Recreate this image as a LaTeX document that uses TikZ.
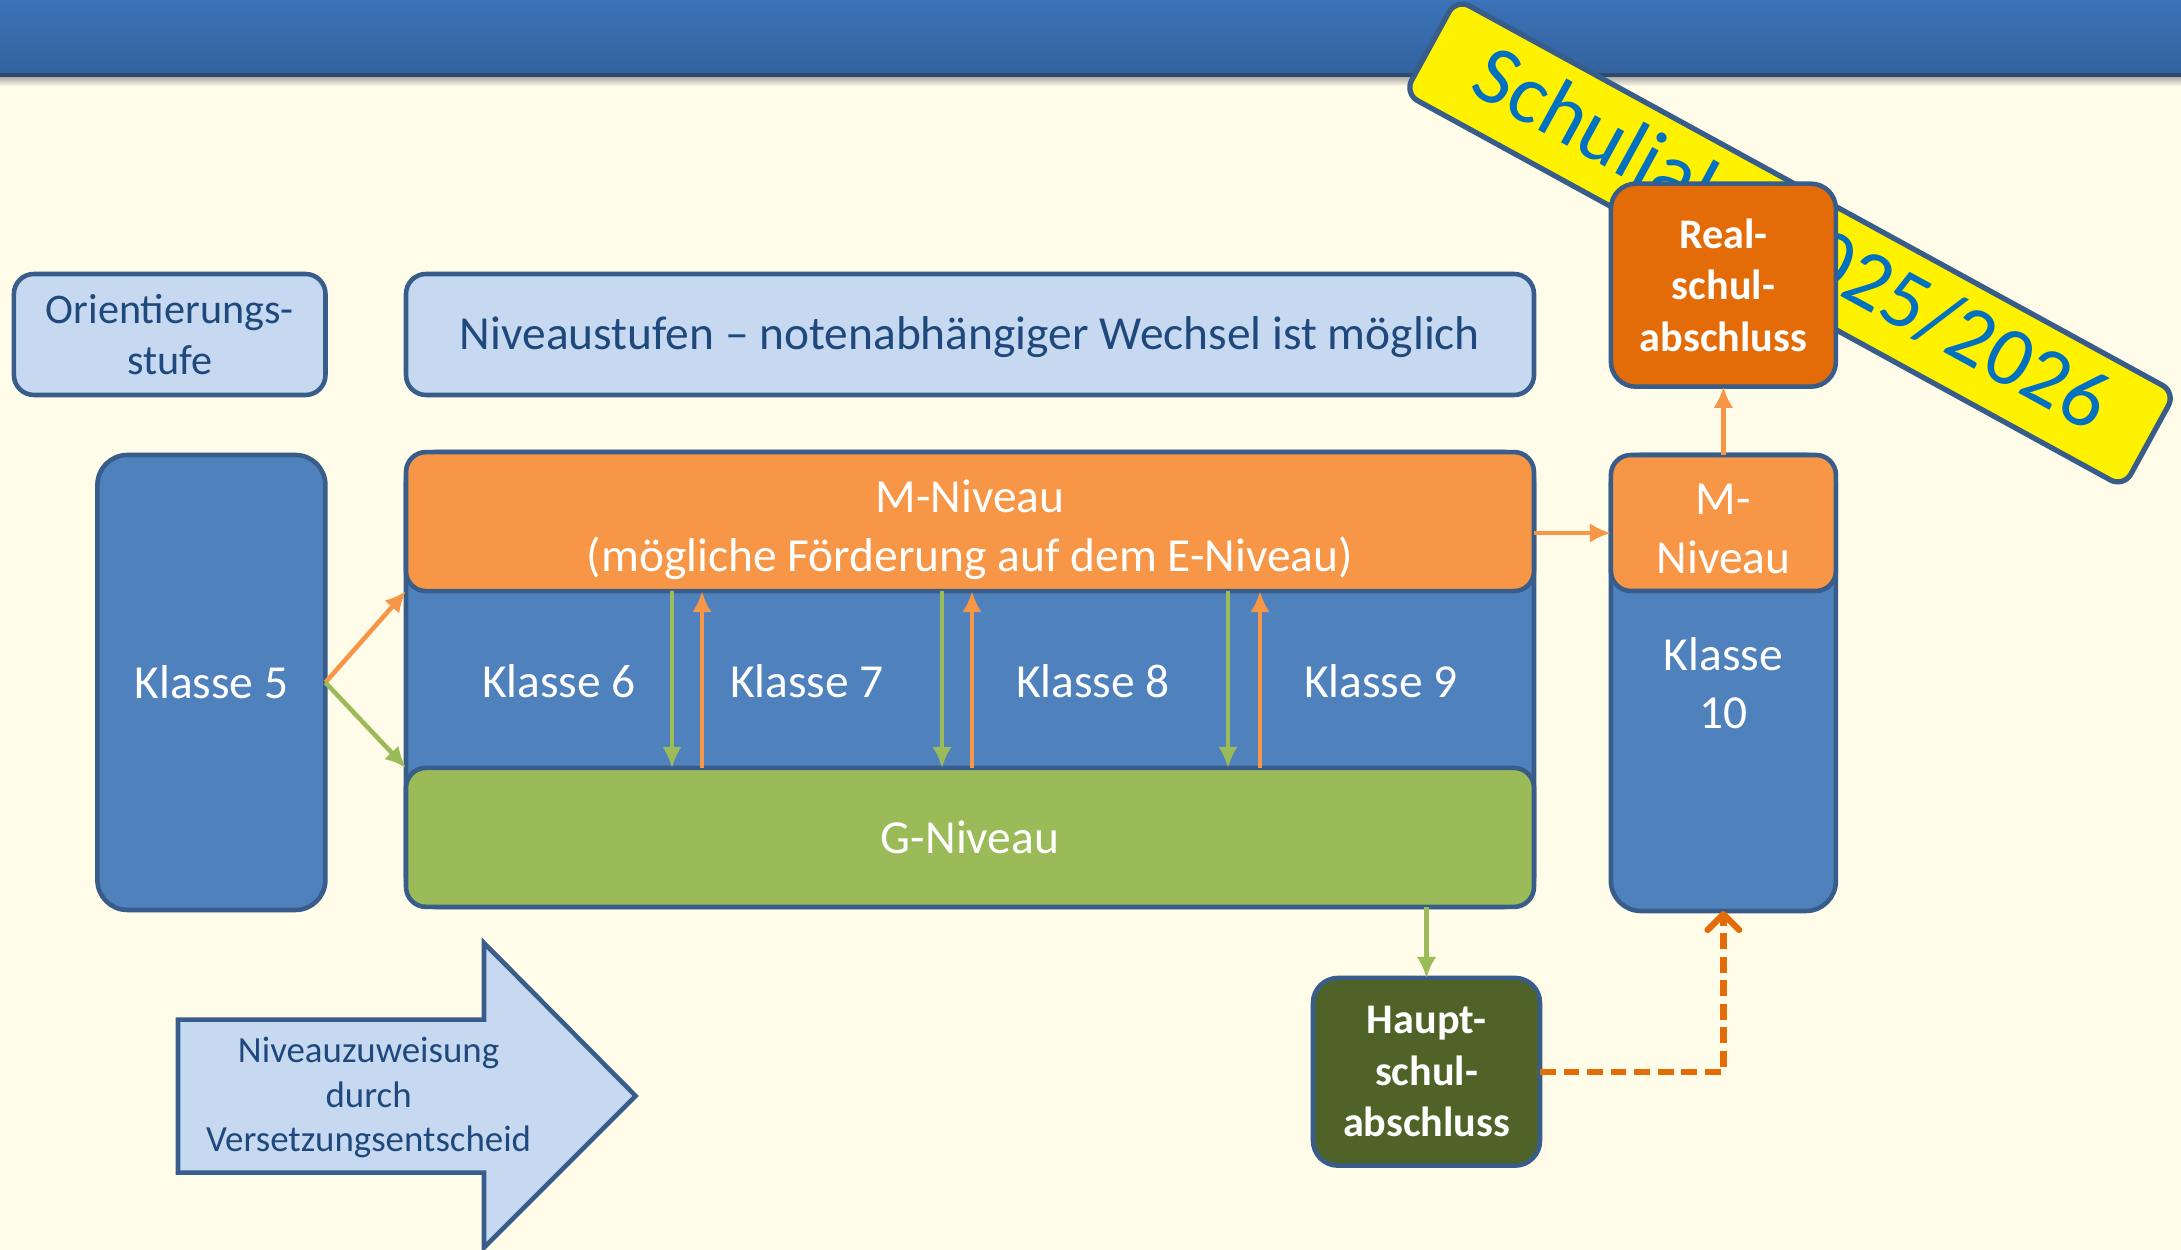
\documentclass[tikz,border=0pt]{standalone}
\usepackage{fontspec}
\setmainfont{Carlito}
\usetikzlibrary{arrows.meta,positioning}
\definecolor{cream}{RGB}{255,252,233}
\definecolor{barblue}{RGB}{59,115,184}
\definecolor{bardark}{RGB}{51,98,158}
\definecolor{edgeblue}{RGB}{56,93,138}
\definecolor{lightblue}{RGB}{198,217,241}
\definecolor{midblue}{RGB}{79,129,189}
\definecolor{textblue}{RGB}{31,73,125}
\definecolor{mor}{RGB}{247,150,70}
\definecolor{ggreen}{RGB}{155,187,89}
\definecolor{realor}{RGB}{227,108,9}
\definecolor{olive}{RGB}{79,98,40}
\definecolor{bannerblue}{RGB}{0,112,192}

\begin{document}
\begin{tikzpicture}[>={Latex[length=6pt,width=5.6pt]}, semithick]
\tikzstyle{infobox} = [rectangle, rounded corners=0.2cm, draw=edgeblue, line width=1.3pt, fill=lightblue, text=textblue, align=center, inner sep=0pt, outer sep=0pt]
\tikzstyle{klasse} = [rectangle, rounded corners=0.3cm, draw=edgeblue, line width=1.3pt, fill=midblue, text=white, align=center, inner sep=0pt, outer sep=0pt, font=\fontsize{13.5}{16.6}\selectfont]
\tikzstyle{niveau} = [klasse, rounded corners=0.2cm]
\tikzstyle{abschluss} = [klasse, rounded corners=0.25cm, font=\bfseries\fontsize{12}{14.6}\selectfont]
\tikzset{orpfeil/.style={->, draw=mor, line width=1.3pt}}
\tikzset{grpfeil/.style={->, draw=ggreen, line width=1.3pt}}

    % Hintergrund und Kopfleiste
    \fill[cream] (0,0) rectangle (21.81,12.50);
    \useasboundingbox (0,0) rectangle (21.81,12.50);
    \shade[top color=barblue, bottom color=bardark] (0,11.76) rectangle (21.81,12.50);
    \shade[top color=black!40, bottom color=cream] (0,11.64) rectangle (21.81,11.75);
    \draw[edgeblue!80!black, line width=1.2pt] (0,11.75) -- (21.81,11.75);

    % Schuljahr
    \node[rectangle, rounded corners=0.15cm, draw=edgeblue, line width=1.5pt, fill=yellow, text=bannerblue, minimum width=8.2cm, minimum height=1.08cm, font=\fontsize{24}{28}\selectfont, rotate=-28.7] (jahr) at (17.9,10.07) {Schuljahr 2025/2026};

    \node[infobox, minimum width=3.116cm, minimum height=1.21cm, font=\fontsize{12}{14.6}\selectfont] (orient) at (1.697,9.155) {Orientierungs-\\stufe};
    \node[infobox, minimum width=11.28cm, minimum height=1.21cm, font=\fontsize{13.5}{16.6}\selectfont] (stufen) at (9.70,9.155) {\rule{0pt}{11pt}Niveaustufen – notenabhängiger Wechsel ist möglich};

    \node[klasse, minimum width=2.28cm, minimum height=4.55cm] (k5) at (2.114,5.675) {Klasse 5};
    \node[klasse, minimum width=11.28cm, minimum height=4.55cm] (k69) at (9.70,5.705) {};
    \node[niveau, fill=mor, minimum width=11.28cm, minimum height=1.39cm] (mniv) at (9.70,7.284) {\rule{0pt}{14pt}M-Niveau\\(mögliche Förderung auf dem E-Niveau)};
    \node[niveau, fill=ggreen, minimum width=11.28cm, minimum height=1.39cm] (gniv) at (9.70,4.126) {G-Niveau};
    \foreach \x/\n in {5.59/6, 8.07/7, 10.93/8, 13.81/9}
        \node[text=white, font=\fontsize{13.5}{16.6}\selectfont] (k\n) at (\x,5.684) {Klasse \n};

    \node[klasse, minimum width=2.25cm, minimum height=4.56cm] (k10) at (17.234,5.67) {Klasse\\10};
    \node[niveau, fill=mor, minimum width=2.25cm, minimum height=1.36cm] (msmall) at (17.234,7.27) {\rule{0pt}{12pt}M-\\Niveau};
    \node[abschluss, fill=realor, minimum width=2.25cm, minimum height=2.03cm] (real) at (17.234,9.648) {Real-\\schul-\\abschluss};
    \node[abschluss, fill=olive, minimum width=2.27cm, minimum height=1.877cm] (haupt) at (14.265,1.782) {Haupt-\\schul-\\abschluss};

    % Pfeile
    \draw (k5.east) edge [orpfeil] (mniv.south west);
    \draw (k5.east) edge [grpfeil] (gniv.north west);
    \foreach \dx/\ux in {2.66/2.96, 5.36/5.66, 8.22/8.54} {
        \draw[grpfeil] ([xshift=\dx cm]mniv.south west) -- ([xshift=\dx cm]gniv.north west);
        \draw[orpfeil] ([xshift=\ux cm]gniv.north west) -- ([xshift=\ux cm]mniv.south west);
    }
    \draw[orpfeil] ([yshift=-1mm]msmall.west -| k69.east) -- ([yshift=-1mm]msmall.west);
    \draw[orpfeil] (msmall.north) -- (real.south);
    \draw[grpfeil] (gniv.south -| haupt.north) -- (haupt.north);
    \draw[realor, line width=1.8pt, dash pattern=on 4.5pt off 2.2pt, -{Straight Barb[length=4.5pt,width=9pt,round]}] (haupt.east) -| (k10.south);

    % Zuweisungspfeil
    \draw[edgeblue, line width=1.3pt, fill=lightblue] (1.78,2.304) -- (4.84,2.304) -- (4.84,3.07) -- (6.357,1.54) -- (4.84,0.023) -- (4.84,0.774) -- (1.78,0.774) -- cycle;
    \node[text=textblue, align=center, font=\fontsize{10.5}{12.7}\selectfont] (zuweisung) at (3.686,1.525) {Niveauzuweisung\\durch\\Versetzungsentscheid};
\end{tikzpicture}
\end{document}
